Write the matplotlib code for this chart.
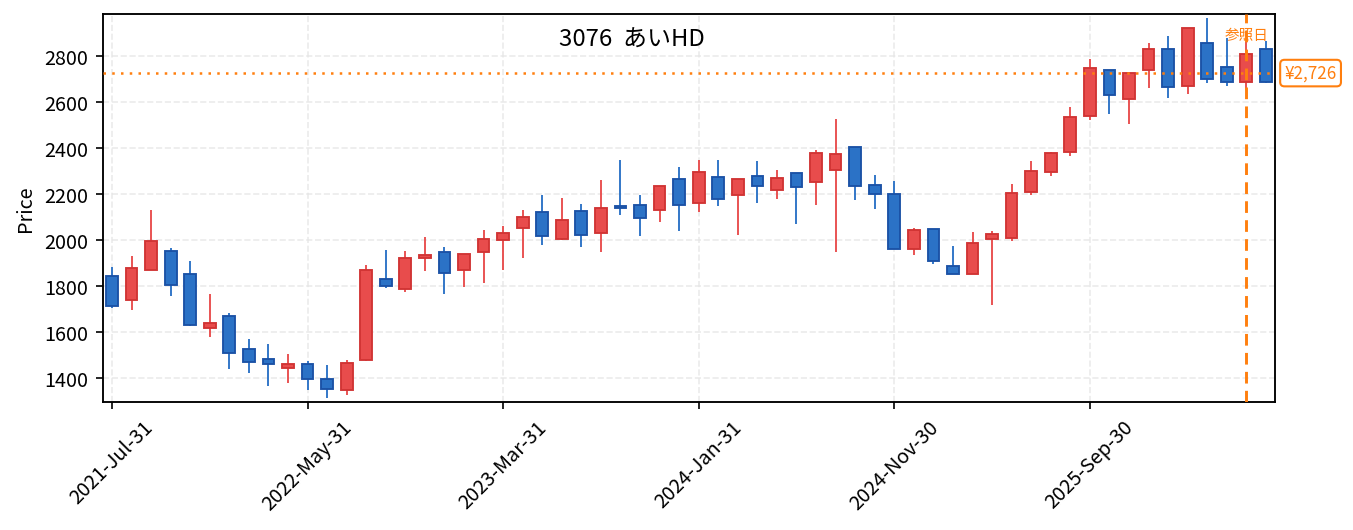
import matplotlib
matplotlib.use("Agg")
import matplotlib.pyplot as plt
import pandas as pd

plt.rcParams['font.family'] = ['Noto Sans CJK JP', 'DejaVu Sans']

# Datos (mensual, 2021-07 .. 2026-06)
opens = [1845, 1739, 1870, 1954, 1854, 1617, 1671, 1528, 1484, 1442,
         1462, 1397, 1346, 1478, 1832, 1787, 1920, 1949, 1870, 1948,
         2000, 2052, 2123, 2004, 2128, 2029, 2149, 2154, 2130, 2267,
         2159, 2275, 2196, 2280, 2217, 2293, 2252, 2304, 2406, 2239,
         2201, 1961, 2049, 1888, 1852, 2004, 2007, 2209, 2294, 2381,
         2539, 2741, 2612, 2739, 2832, 2670, 2858, 2754, 2687, 2832]
highs = [1883, 1930, 2130, 1965, 1909, 1765, 1683, 1570, 1548, 1504,
         1473, 1457, 1478, 1891, 1957, 1952, 2013, 1970, 1941, 2042,
         2059, 2130, 2196, 2183, 2155, 2261, 2348, 2196, 2236, 2317,
         2348, 2348, 2267, 2343, 2304, 2293, 2390, 2526, 2406, 2283,
         2257, 2051, 2049, 1974, 2035, 2039, 2243, 2343, 2381, 2577,
         2787, 2741, 2728, 2857, 2887, 2923, 2965, 2878, 2860, 2864]
lows = [1703, 1697, 1868, 1758, 1625, 1580, 1439, 1423, 1367, 1380,
        1349, 1315, 1328, 1476, 1793, 1775, 1867, 1767, 1797, 1815,
        1871, 1923, 1980, 2002, 1971, 1949, 2110, 2019, 2080, 2041,
        2123, 2149, 2023, 2162, 2180, 2071, 2154, 1949, 2175, 2136,
        1961, 1936, 1897, 1852, 1852, 1719, 1997, 2197, 2280, 2367,
        2522, 2549, 2506, 2662, 2619, 2636, 2684, 2668, 2654, 2684]
closes = [1712, 1880, 1997, 1803, 1630, 1641, 1509, 1470, 1461, 1460,
          1394, 1351, 1464, 1868, 1799, 1923, 1936, 1857, 1941, 2006,
          2030, 2101, 2017, 2088, 2022, 2141, 2139, 2096, 2236, 2151,
          2297, 2178, 2267, 2235, 2271, 2229, 2380, 2375, 2235, 2200,
          1961, 2045, 1909, 1852, 1988, 2028, 2206, 2301, 2377, 2534,
          2749, 2630, 2728, 2832, 2665, 2923, 2700, 2687, 2810, 2687]

dates = pd.date_range("2021-07-31", periods=len(opens), freq="ME")
ref_index = 58
ref_price = 2726
title = "3076  あいHD"

up_fill, up_edge = "#e84c4c", "#d13434"
dn_fill, dn_edge = "#2b72c6", "#1b52a6"

fig = plt.figure(figsize=(13.53 / 1.5, 5.31 / 1.5), dpi=150)
ax = fig.add_axes([0.0761, 0.2416, 0.8663, 0.7302])

width = 0.6
for i, (o, h, l, c) in enumerate(zip(opens, highs, lows, closes)):
    up = c >= o
    fc, ec = (up_fill, up_edge) if up else (dn_fill, dn_edge)
    ax.vlines(i, l, h, color=fc, linewidth=0.9, zorder=2)
    ax.bar(i, abs(c - o), width, bottom=min(o, c), color=fc, edgecolor=ec,
           linewidth=0.9, zorder=3)

# linea de referencia
ax.axvline(ref_index, color="#ff7f0e", linestyle=(0, (4, 2.5)), linewidth=1.4, zorder=4)
ax.axhline(ref_price, color="#ff7f0e", linestyle=(0, (1, 2.5)), linewidth=1.2, zorder=4)
ax.text(ref_index, 2892, "参照日", color="#ff7f0e", fontsize=7, ha="center", va="center", zorder=5)
ax.text(1.008, ref_price, f"¥{ref_price:,}", color="#ff7f0e", fontsize=8.2,
        ha="left", va="center", transform=ax.get_yaxis_transform(),
        bbox=dict(boxstyle="round,pad=0.25", fc="white", ec="#ff7f0e", lw=1.0),
        clip_on=False)

ax.text(0.451, 0.935, title, transform=ax.transAxes, fontsize=11.5, ha="center", va="center")

ax.set_xlim(-0.46, 59.47)
ax.set_ylim(1297, 2983)
tick_pos = list(range(0, len(dates), 10))
ax.set_xticks(tick_pos)
ax.set_xticklabels([dates[i].strftime("%Y-%b-%d") for i in tick_pos], rotation=45,
                   ha="center", fontsize=9.5)
ax.set_yticks(range(1400, 2801, 200))
ax.tick_params(axis="y", labelsize=9.5)
ax.set_ylabel("Price", fontsize=9.5)
ax.grid(True, color="#e6e6e6", linestyle="--", linewidth=0.8, alpha=0.8)
ax.set_axisbelow(True)
for s in ax.spines.values():
    s.set_linewidth(0.9)

fig.savefig("out.png", dpi=150)
